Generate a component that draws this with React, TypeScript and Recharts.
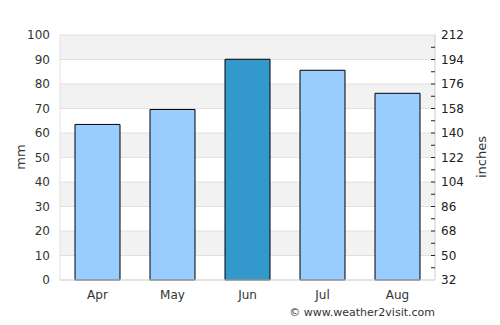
import { ComposedChart, Bar, Line, XAxis, YAxis, CartesianGrid, Cell } from 'recharts';

const months = ['Apr', 'May', 'Jun', 'Jul', 'Aug'];
const rainfallMm = [63.5, 69.6, 90.1, 85.6, 76.2];
const highlightMonth = 'Jun';
const mmTicks = [0, 10, 20, 30, 40, 50, 60, 70, 80, 90, 100];
const rightTicks = [32, 41, 50, 59, 68, 77, 86, 95, 104, 113, 122, 131, 140, 149, 158, 167, 176, 185, 194, 203, 212];

const FONT = '"DejaVu Sans", sans-serif';

const data = months.map((m, i) => ({ month: m, mm: rainfallMm[i] }));

function RightTick(props: any) {
  const { x, y, payload } = props;
  const v = payload.value as number;
  const axisX = x - 6;
  const major = (v - 32) % 18 === 0;
  const isEnd = v === 32 || v === 212;
  return (
    <g>
      {!isEnd && <line x1={axisX - 4} x2={axisX} y1={y} y2={y} stroke="#222" strokeWidth={1} />}
      {major && (
        <text x={x} y={y} dy="0.35em" textAnchor="start" fontSize={12} fontFamily={FONT} fill="#222">
          {v}
        </text>
      )}
    </g>
  );
}

export default function App() {
  return (
    <div style={{ position: 'absolute', left: 0, top: 0, width: 500, height: 325, background: '#fff', fontFamily: FONT }}>
      <ComposedChart
        width={500}
        height={325}
        data={data}
        margin={{ top: 35, right: 0, left: 0, bottom: 15 }}
        barCategoryGap="20%"
      >
        <CartesianGrid
          vertical={false}
          stroke="#e0e0e0"
          horizontalFill={['#f2f2f2', '#ffffff']}
          yAxisId="mm"
        />
        <XAxis
          dataKey="month"
          height={30}
          tickLine={false}
          tickSize={0}
          tickMargin={10}
          axisLine={{ stroke: '#d8d8d8' }}
          tick={{ fontSize: 12, fontFamily: FONT, fill: '#333' }}
        />
        <YAxis
          yAxisId="mm"
          orientation="left"
          width={60}
          domain={[0, 100]}
          ticks={mmTicks}
          interval={0}
          tickLine={false}
          tickSize={0}
          tickMargin={10}
          axisLine={{ stroke: '#e0e0e0' }}
          tick={{ fontSize: 12, fontFamily: FONT, fill: '#333' }}
        />
        <YAxis
          yAxisId="f"
          orientation="right"
          width={65}
          type="number"
          domain={[32, 212]}
          allowDataOverflow
          ticks={rightTicks}
          interval={0}
          tickLine={false}
          tickSize={0}
          tickMargin={6}
          axisLine={{ stroke: '#cccccc' }}
          tick={<RightTick />}
        />
        <Bar yAxisId="mm" dataKey="mm" stroke="#000" strokeWidth={1} isAnimationActive={false}>
          {data.map((d) => (
            <Cell key={d.month} fill={d.month === highlightMonth ? '#3399cc' : '#99ccff'} />
          ))}
        </Bar>
        {/* invisible helper so the right axis gets rendered */}
        <Line
          yAxisId="f"
          dataKey="mm"
          stroke="none"
          dot={false}
          activeDot={false}
          legendType="none"
          isAnimationActive={false}
        />
      </ComposedChart>
      <div
        style={{
          position: 'absolute',
          left: 20,
          top: 157,
          fontSize: 13,
          color: '#333',
          transform: 'translate(-50%, -50%) rotate(-90deg)',
          whiteSpace: 'nowrap',
        }}
      >
        mm
      </div>
      <div
        style={{
          position: 'absolute',
          left: 481,
          top: 157,
          fontSize: 13,
          color: '#333',
          transform: 'translate(-50%, -50%) rotate(-90deg)',
          whiteSpace: 'nowrap',
        }}
      >
        inches
      </div>
      <div
        style={{
          position: 'absolute',
          right: 65,
          top: 306,
          fontSize: 11,
          color: '#333',
          whiteSpace: 'nowrap',
        }}
      >
        © www.weather2visit.com
      </div>
    </div>
  );
}
